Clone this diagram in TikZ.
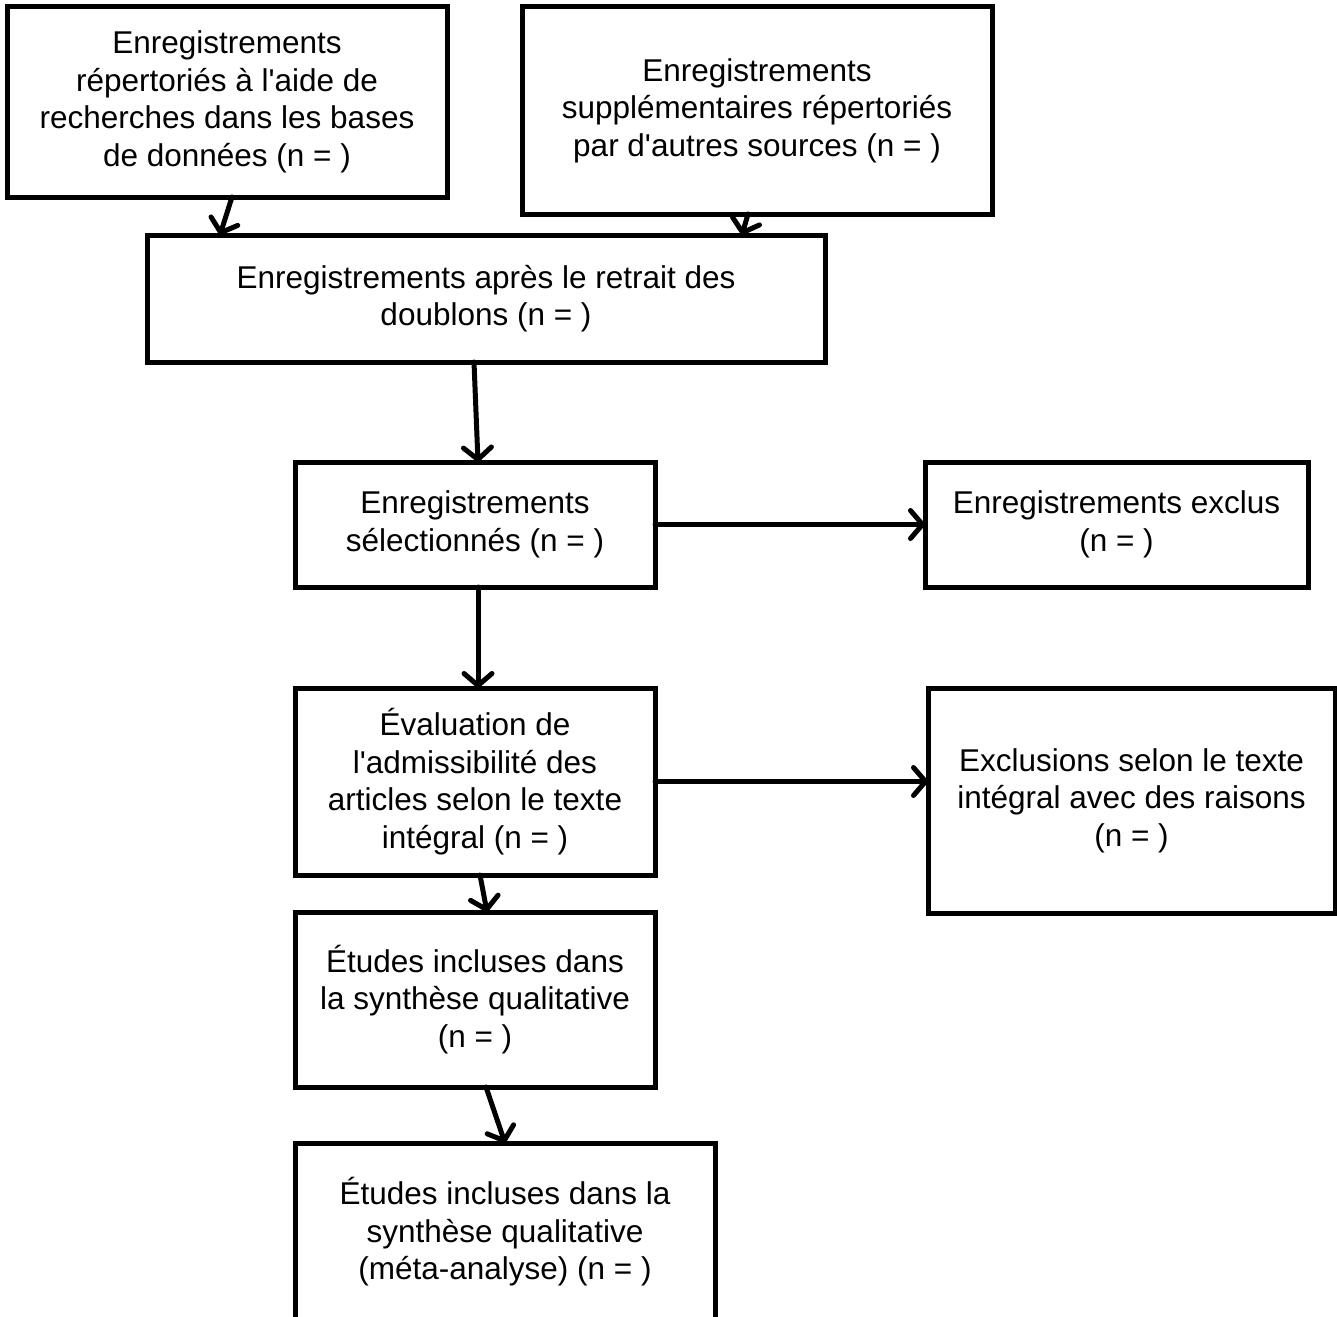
\documentclass[tikz,border=0pt]{standalone}
\usepackage{fontspec}
\setmainfont{Liberation Sans}
\usetikzlibrary{arrows.meta,calc}
\tikzset{
  box/.style={draw, line width=5pt, align=center, outer sep=0pt, inner sep=0pt,
    font=\fontsize{31.5}{37.5}\selectfont},
  conn/.style={line width=5pt, line cap=round,
    -{Straight Barb[length=12pt,width=28pt,line width=5pt,round]}}
}
\begin{document}
\begin{tikzpicture}[x=1pt,y=-1pt]
\clip (0,0) rectangle (1337,1316);
\fill[white] (0,0) rectangle (1337,1316);
\node[box, minimum width=440pt, minimum height=190pt] (b1) at (227,102)
  {Enregistrements\\répertoriés à l\textquotesingle aide de\\recherches dans les bases\\de données (n = )};
\node[box, minimum width=470pt, minimum height=207pt] (b2) at (757,110.5)
  {Enregistrements\\supplémentaires répertoriés\\par d\textquotesingle autres sources (n = )};
\node[box, minimum width=678pt, minimum height=127pt] (b3) at (486,298.5)
  {Enregistrements après le retrait des\\doublons (n = )};
\node[box, minimum width=360pt, minimum height=125pt] (b4) at (475,524.5)
  {Enregistrements\\sélectionnés (n = )};
\node[box, minimum width=383pt, minimum height=125pt] (b5) at (1116.5,524.5)
  {Enregistrements exclus\\(n = )};
\node[box, minimum width=360pt, minimum height=187pt] (b6) at (475,781.5)
  {Évaluation de\\l\textquotesingle admissibilité des\\articles selon le texte\\intégral (n = )};
\node[box, minimum width=407pt, minimum height=225pt] (b7) at (1131.5,800.5)
  {Exclusions selon le texte\\intégral avec des raisons\\(n = )};
\node[box, minimum width=360pt, minimum height=175pt] (b8) at (475,999.5)
  {Études incluses dans\\la synthèse qualitative\\(n = )};
\node[box, minimum width=420pt, minimum height=178pt] (b9) at (505,1232)
  {Études incluses dans la\\synthèse qualitative\\(méta-analyse) (n = )};
\draw[conn] ([xshift=5pt]b1.south) -- ([xshift=73pt]b3.north west);
\draw[conn] ([xshift=-9pt]b2.south) -- ([xshift=-83pt]b3.north east);
\draw[conn] ([xshift=-12pt]b3.south) -- ([xshift=3pt]b4.north);
\draw[conn] (b4.east) -- (b5.west);
\draw[conn] ([xshift=3pt]b4.south) -- ([xshift=3pt]b6.north);
\draw[conn] (b6.east) -- (b6.east -| b7.west);
\draw[conn] ([xshift=5pt]b6.south) -- ([xshift=12pt]b8.north);
\draw[conn] ([xshift=11pt]b8.south) -- ([xshift=-210pt]b9.north east);
\end{tikzpicture}
\end{document}
